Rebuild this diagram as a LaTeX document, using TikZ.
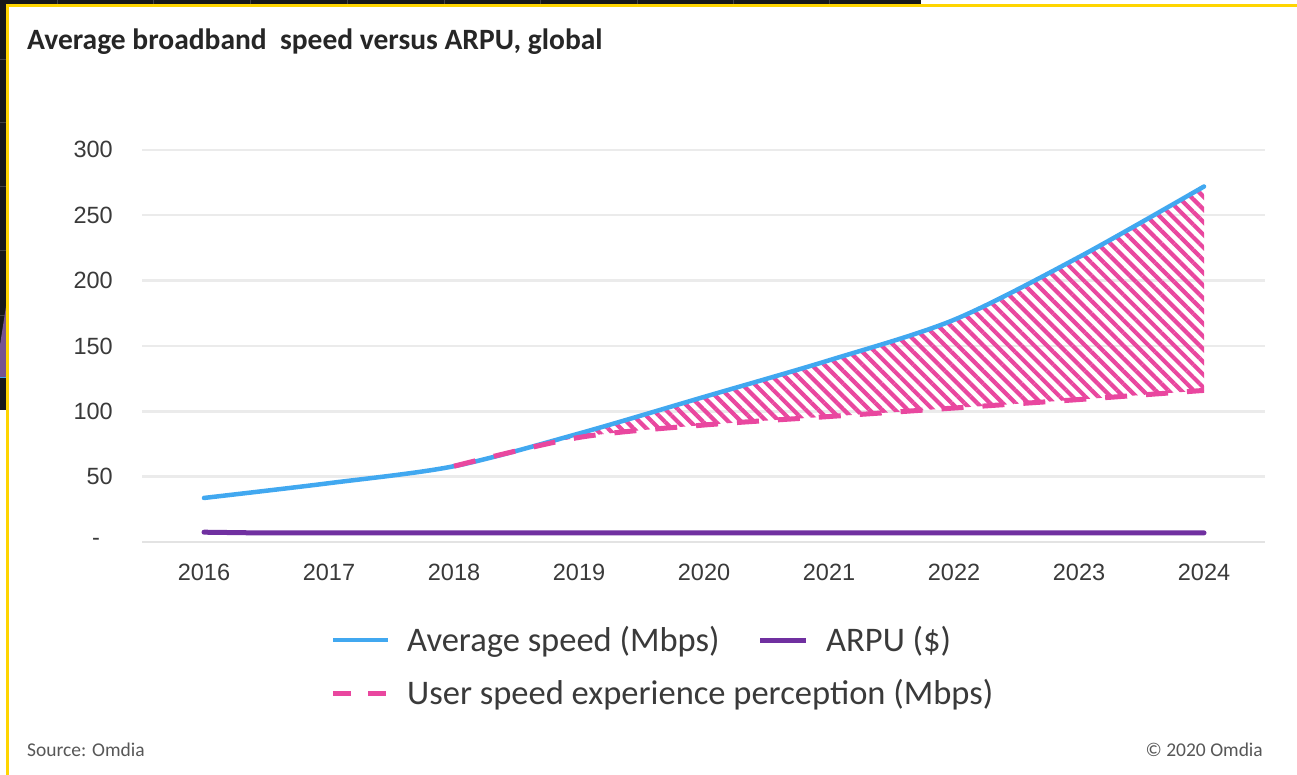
\documentclass[tikz,border=0pt]{standalone}
\usepackage{fontspec}
\setmainfont{Carlito}
\newfontfamily\axisfont{Liberation Sans}
\usepackage{xcolor}
\usepackage{tikz}
\usetikzlibrary{positioning, calc, patterns.meta}
\definecolor{speedblue}{HTML}{41A8F0}
\definecolor{arpupurple}{HTML}{7030A0}
\definecolor{userpink}{HTML}{E9479F}
\definecolor{gridgray}{HTML}{EBEBEB}
\definecolor{framegold}{HTML}{FFD500}
\definecolor{screenblack}{HTML}{17181A}
\definecolor{labelgray}{HTML}{3A3A3A}
\tikzset{
    gridline/.style={draw=gridgray, line width=2.5pt},
    speedline/.style={draw=speedblue, line width=4.5pt, line cap=round},
    arpuline/.style={draw=arpupurple, line width=5pt, line cap=round},
    userline/.style={draw=userpink, line width=5pt, dash pattern=on 22pt off 19pt},
    hatcharea/.style={pattern={Lines[angle=-45, distance=9pt, line width=4.2pt]}, pattern color=userpink},
    ticklabel/.style={anchor=east, inner sep=0pt, text=labelgray, font=\axisfont\fontsize{23.5}{27}\selectfont},
    yearlabel/.style={anchor=center, inner sep=0pt, text=labelgray, font=\axisfont\fontsize{23.5}{27}\selectfont},
    legendtext/.style={anchor=base west, inner sep=0pt, text=labelgray, font=\fontsize{34.5}{40}\selectfont},
    notetext/.style={inner sep=0pt, text=labelgray!85, font=\fontsize{19.5}{23}\selectfont}
}

\begin{document}
\begin{tikzpicture}[x=1pt, y=-1pt]
    \useasboundingbox (0,0) rectangle (1297,775);

    % Screen behind the panel
    \fill[white] (0,0) rectangle (1297,775);
    \fill[screenblack] (0,0) rectangle (921,410);
    \foreach \gy in {60,123,187,251,315} \draw[gray!40!screenblack, line width=1pt] (0,\gy) -- (7,\gy);
    \foreach \gx in {57,153,250,347,444,540,637,733,829} \draw[gray!40!screenblack, line width=1pt] (\gx,0) -- (\gx,5);
    \fill[arpupurple!55!gray] (0,345) -- (7,300) -- (7,377) -- (0,377) -- cycle;
    \draw[speedblue, line width=1pt] (0,377) -- (7,377);

    % Panel
    \draw[framegold, line width=3pt, fill=white] (7.5,5.5) rectangle (1310,790);
    \node[anchor=base west, inner sep=0pt, text=black!85, font=\bfseries\fontsize{29.5}{34}\selectfont] (title) at (27,50) {Average broadband~ speed versus ARPU, global};

    % Chart
    \begin{scope}[shift={(204,542)}, x=125pt, y=1.307pt]
        \foreach \v in {50,100,...,300} {
            \draw[gridline] (-0.496,\v) -- (8.488,\v);
            \node[ticklabel] (tick\v) at (-0.728,\v) {\v};
        }
        \draw[gridline, draw=gray!22] (-0.496,0) -- (8.488,0);
        \node[ticklabel] (tick0) at (-0.83,0) {-};
        \foreach \yr [count=\i from 0] in {2016,...,2024} \node[yearlabel] (yr\yr) at (\i,-23) {\yr};

        % Gap between speed and perception
        \fill[hatcharea] plot[smooth, tension=0.5] coordinates {(2,58) (3,83) (4,111) (5,139) (6,170) (7,218) (8,272)}
            -- plot[smooth, tension=0.5] coordinates {(8,116) (7,109) (6,102.5) (5,96) (4,89.5) (3,80) (2,58)} -- cycle;

        % Series
        \draw[arpuline] (0,7.5) -- (0.4,7) -- (8,7);
        \draw[speedline] plot[smooth, tension=0.5] coordinates {(0,33.7) (1,45) (2,58) (3,83) (4,111) (5,139) (6,170) (7,218) (8,272)};
        \draw[userline] plot[smooth, tension=0.5] coordinates {(2,58) (3,80) (4,89.5) (5,96) (6,102.5) (7,109) (8,116)};
    \end{scope}

    % Legend
    \node[legendtext] (lgspeed) at (407,651) {Average speed (Mbps)};
    \node[legendtext] (lgarpu) at (826,651) {ARPU (\$)};
    \node[legendtext] (lguser) at (407,704) {User speed experience perception (Mbps)};
    \coordinate (speedA) at (333,640); \coordinate (speedB) at (388,640);
    \coordinate (arpuA) at (760,640); \coordinate (arpuB) at (806,640);
    \coordinate (userA) at (333,693); \coordinate (userB) at (388,693);
    \draw[speedline, line cap=butt] (speedA) -- (speedB);
    \draw[arpuline, line cap=butt] (arpuA) -- (arpuB);
    \draw[userline, dash pattern=on 18pt off 17pt] (userA) -- (userB);

    % Notes
    \node[notetext, anchor=base west] (source) at (27,756) {Source: Omdia};
    \node[notetext, anchor=base east] (copy) at (1263,756) {© 2020 Omdia};
\end{tikzpicture}
\end{document}
